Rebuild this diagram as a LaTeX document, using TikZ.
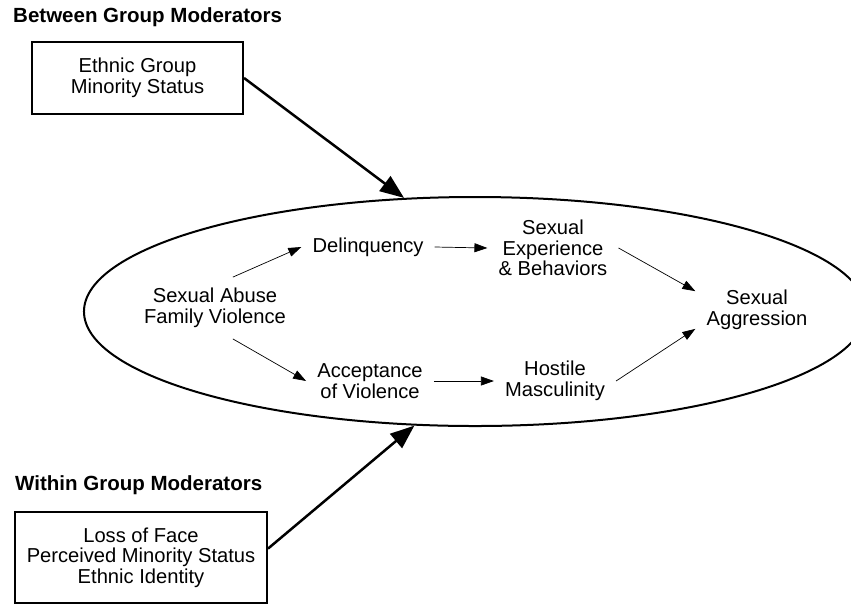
\documentclass[tikz,border=0pt]{standalone}
\usepackage{fontspec}
\setmainfont{Liberation Sans}
\usetikzlibrary{shapes.geometric,arrows.meta}
\begin{document}
\begin{tikzpicture}[x=0.03cm,y=-0.03cm,
every node/.style={font=\fontsize{17.2}{17.5}\selectfont, align=center},
factor/.style={inner sep=0.33cm},
modbox/.style={rectangle, draw=black, line width=0.06cm, inner sep=0pt},
heading/.style={anchor=west, inner sep=0pt, font=\fontsize{17.5}{18}\selectfont\bfseries},
effect/.style={line width=0.6pt, -{Triangle[length=0.39cm,width=0.27cm]}},
moderates/.style={line width=0.075cm, -{Triangle[length=0.72cm,width=0.55cm]}} ]
\useasboundingbox (0,0) rectangle (851,605);
\clip (0,0) rectangle (851,605);
% the model
\node[ellipse, draw=black, line width=0.06cm, minimum width=23.46cm, minimum height=6.87cm] (model) at (475,311.5) {};
\node[factor] (abuse) at (215,308) {Sexual Abuse\\Family Violence};
\node[factor] (delinq) at (368,247) {Delinquency};
\node[factor] (accept) at (370,381) {Acceptance\\of Violence};
\node[factor] (sexexp) at (553,248) {Sexual\\Experience\\\& Behaviors};
\node[factor] (hostile) at (555,381) {Hostile\\Masculinity};
\node[factor] (aggr) at (757,310) {Sexual\\Aggression};
\draw[effect] (abuse.60) -- (delinq.west);
\draw[effect] (abuse.-60) -- (accept.west);
\draw[effect] (delinq.east) -- (sexexp.west);
\draw[effect] (accept.east) -- (hostile.west);
\draw[effect] (sexexp.east) -- (aggr.163);
\draw[effect] (hostile.east) -- (aggr.197);
% moderators
\node[heading] (between) at (13,17) {Between Group Moderators};
\node[modbox, minimum width=6.33cm, minimum height=2.16cm] (ethnic) at (137.5,78) {Ethnic Group\\Minority Status};
\node[heading] (within) at (15,485) {Within Group Moderators};
\node[modbox, minimum width=7.56cm, minimum height=2.73cm] (identity) at (141,557.5) {Loss of Face\\Perceived Minority Status\\Ethnic Identity};
\draw[moderates] (ethnic.east) -- (model.122);
\draw[moderates] (identity.4) -- (model.242);
\end{tikzpicture}
\end{document}
